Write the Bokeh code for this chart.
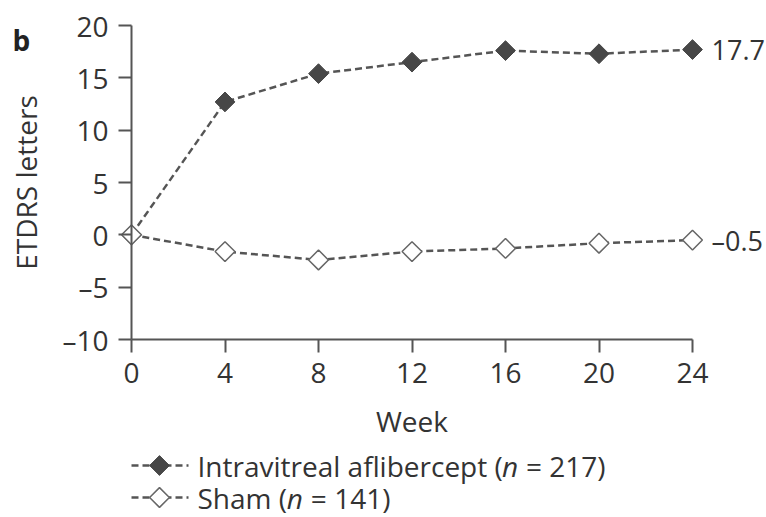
from bokeh.plotting import figure
from bokeh.models import Range1d, Label
from bokeh.embed import file_html
from bokeh.resources import INLINE
import math

weeks = [0, 4, 8, 12, 16, 20, 24]
aflibercept = [0.0, 12.7, 15.4, 16.5, 17.6, 17.3, 17.7]
sham = [0.0, -1.6, -2.4, -1.6, -1.3, -0.8, -0.5]
end_labels = ["17.7", "\u20130.5"]
x_ticks = [0, 4, 8, 12, 16, 20, 24]
y_ticks = [-10, -5, 0, 5, 10, 15, 20]
legend_pre = ["Intravitreal aflibercept (", "Sham ("]
legend_n = ["n", "n"]
legend_post = ["\u00a0=\u00a0217)", "\u00a0=\u00a0141)"]

FONT = "Open Sans"
TXT = "#333333"
AX = "#555555"
FS = "28px"

W, H = 766, 517
# pixel placement of the axes box inside the canvas
AX_L, AX_R, AX_T, AX_B = 131, 692, 25, 339
x0, x1 = x_ticks[0], x_ticks[-1]
y0, y1 = y_ticks[0], y_ticks[-1]
kx = (AX_R - AX_L) / (x1 - x0)
ky = (AX_B - AX_T) / (y1 - y0)
xr = Range1d(x0 - AX_L / kx, x1 + (W - AX_R) / kx)
yr = Range1d(y0 - (H - AX_B) / ky, y1 + AX_T / ky)


def px_x(px):
    return xr.start + px / kx


def px_y(py):
    return yr.end - py / ky


p = figure(width=W, height=H, output_backend="svg", toolbar_location=None,
           x_range=xr, y_range=yr,
           min_border_left=0, min_border_right=0, min_border_top=0, min_border_bottom=0)
p.outline_line_color = None
p.xgrid.visible = False
p.ygrid.visible = False
p.background_fill_color = "white"
p.border_fill_color = "white"

for ax in (p.xaxis[0], p.yaxis[0]):
    ax.axis_line_color = AX
    ax.axis_line_width = 2
    ax.major_tick_line_color = AX
    ax.major_tick_line_width = 2
    ax.major_tick_out = 13
    ax.major_tick_in = 0
    ax.minor_tick_line_color = None
    ax.major_label_text_font = FONT
    ax.major_label_text_font_size = FS
    ax.major_label_text_color = TXT
    ax.axis_label_text_font = FONT
    ax.axis_label_text_font_size = FS
    ax.axis_label_text_color = TXT
    ax.axis_label_text_font_style = "normal"
    ax.major_label_standoff = 10

p.xaxis.fixed_location = y0
p.yaxis.fixed_location = x0
p.xaxis.bounds = (x0, x1)
p.yaxis.bounds = (y0, y1)
p.xaxis.ticker = x_ticks
p.yaxis.ticker = y_ticks
p.yaxis.major_label_overrides = {t: ("\u2013" + str(abs(t)) if t < 0 else str(t)) for t in y_ticks}
p.xaxis.axis_label = "Week"
p.yaxis.axis_label = "ETDRS letters"
p.xaxis.axis_label_standoff = 16
p.yaxis.axis_label_standoff = 14

DASH = "7 4"
p.line(weeks, aflibercept, line_color=AX, line_width=2.5, line_dash=DASH)
p.line(weeks, sham, line_color=AX, line_width=2.5, line_dash=DASH)
styles = [dict(fill_color="#474747", line_color="#474747", line_width=1),
          dict(fill_color="white", line_color="#666666", line_width=1.5)]
p.scatter(weeks, aflibercept, marker="square", size=14, angle=math.pi / 4, **styles[0])
p.scatter(weeks, sham, marker="square", size=14, angle=math.pi / 4, **styles[1])

for val, txt in zip([aflibercept[-1], sham[-1]], end_labels):
    p.add_layout(Label(x=weeks[-1], y=val, text=txt, x_offset=19, text_baseline="middle",
                       text_font=FONT, text_font_size="27px", text_color=TXT))

p.add_layout(Label(x=x0, y=y1, text="b", x_offset=-119, y_offset=-14, text_baseline="alphabetic",
                   text_font=FONT, text_font_size="28px", text_font_style="bold", text_color="#222222"))

# legend (drawn by hand so the diamonds keep their rotation and "n" can be italic)
LG_X0, LG_X1, LG_TX = 131, 188, 197
LG_ROWS = [465, 497]
PRE_W = [304.4, 89.3]   # rendered width of the text before the italic n at 28px
N_W = 16.8
for i in range(2):
    ry = px_y(LG_ROWS[i])
    p.line([px_x(LG_X0), px_x(LG_X1)], [ry, ry], line_color=AX, line_width=2.5, line_dash=DASH)
    p.scatter([px_x((LG_X0 + LG_X1) / 2 - 0.5)], [ry], marker="square", size=14,
              angle=math.pi / 4, **styles[i])
    for txt, dx, style in [(legend_pre[i], 0, "normal"), (legend_n[i], PRE_W[i], "italic"),
                           (legend_post[i], PRE_W[i] + N_W, "normal")]:
        p.add_layout(Label(x=px_x(LG_TX + dx), y=ry, text=txt, text_baseline="middle",
                           text_font=FONT, text_font_size=FS, text_font_style=style,
                           text_color=TXT))

open("out.html", "w").write(file_html(p, INLINE))
